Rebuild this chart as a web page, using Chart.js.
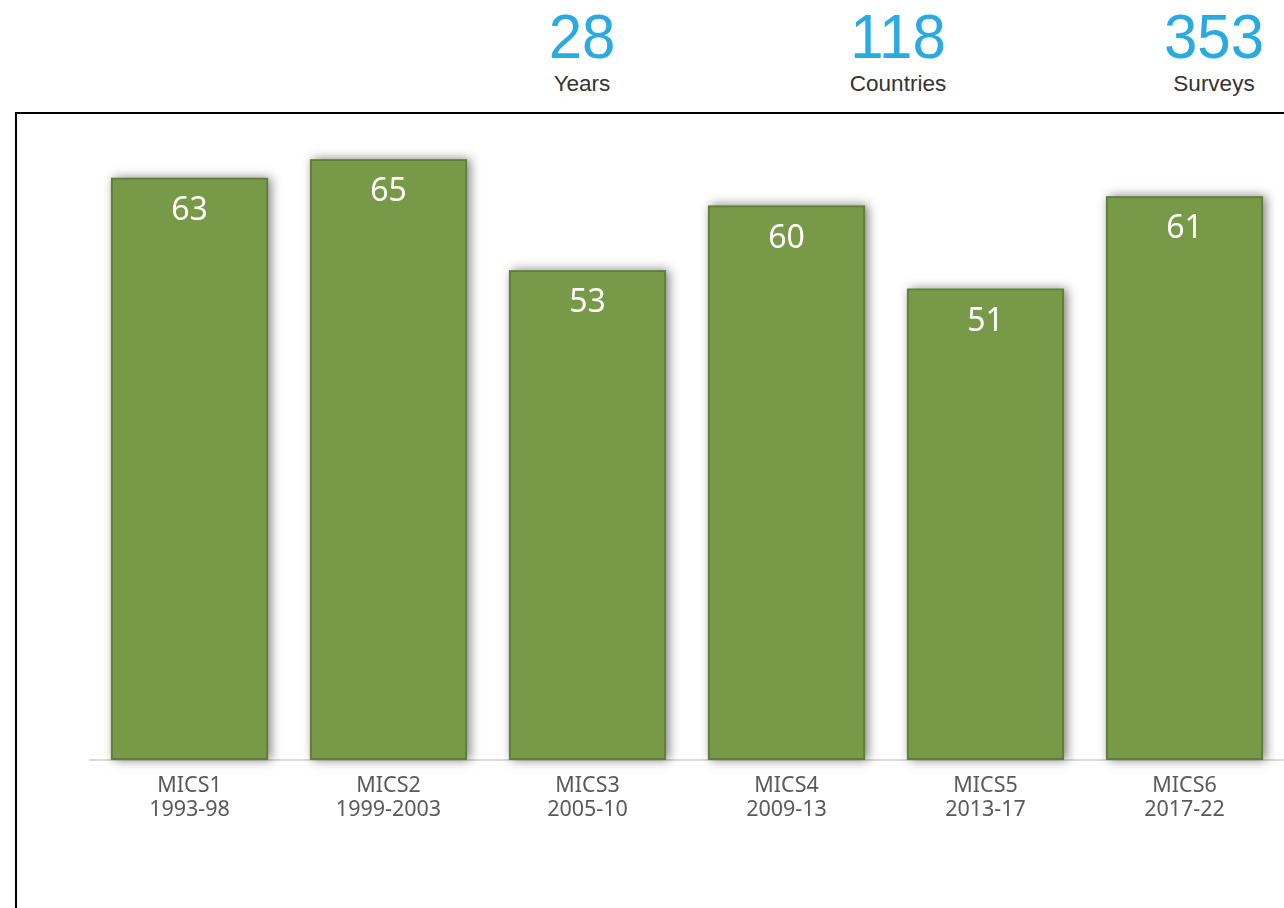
<!DOCTYPE html>
<html>
<head>
<meta charset="utf-8">
<script src="https://cdn.jsdelivr.net/npm/chart.js@4/dist/chart.umd.min.js"></script>
<style>
  html, body { margin:0; padding:0; background:#fff; width:1284px; height:908px; overflow:hidden; }
  #box { position:absolute; left:15px; top:112px; width:1400px; height:900px; border-left:2px solid #000; border-top:2px solid #000; box-sizing:border-box; }
  #wrap { position:absolute; left:0; top:0; width:1284px; height:908px; }
  .stat { position:absolute; width:240px; text-align:center; font-family:"Liberation Sans", Arial, sans-serif; }
  .stat .num { color:#29abe2; font-size:60px; line-height:60px; height:60px; transform:scaleY(1.05); }
  .stat .lbl { color:#333; font-size:22.5px; line-height:24px; margin-top:5px; }
</style>
</head>
<body>
<div id="box"></div>
<div id="stats"></div>
<div id="wrap"><canvas id="c" width="1284" height="908"></canvas></div>
<script>
const statValues = ['28', '118', '353'];
const statLabels = ['Years', 'Countries', 'Surveys'];
const rounds = ['MICS1', 'MICS2', 'MICS3', 'MICS4', 'MICS5', 'MICS6'];
const periods = ['1993-98', '1999-2003', '2005-10', '2009-13', '2013-17', '2017-22'];
const countries = [63, 65, 53, 60, 51, 61];

const statCenters = [582, 898, 1214];
const statsDiv = document.getElementById('stats');
statValues.forEach((v, i) => {
  const d = document.createElement('div');
  d.className = 'stat';
  d.style.left = (statCenters[i] - 120) + 'px';
  d.style.top = '7px';
  d.innerHTML = '<div class="num">' + v + '</div><div class="lbl">' + statLabels[i] + '</div>';
  statsDiv.appendChild(d);
});

// soft shadow behind each bar, placed from the bar elements computed by Chart.js
const shadowPlugin = {
  id: 'barShadow',
  beforeDatasetsDraw(chart) {
    const ctx = chart.ctx;
    const meta = chart.getDatasetMeta(0);
    ctx.save();
    ctx.shadowColor = 'rgba(0,0,0,0.5)';
    ctx.shadowBlur = 10;
    ctx.shadowOffsetX = 3;
    ctx.shadowOffsetY = 0;
    ctx.fillStyle = '#789a48';
    meta.data.forEach((bar) => {
      const p = bar.getProps(['x', 'y', 'base', 'width'], true);
      ctx.fillRect(p.x - p.width / 2, p.y, p.width, p.base - p.y);
    });
    ctx.restore();
  }
};

const labelPlugin = {
  id: 'valueLabels',
  afterDatasetsDraw(chart) {
    const ctx = chart.ctx;
    const meta = chart.getDatasetMeta(0);
    ctx.save();
    ctx.fillStyle = '#ffffff';
    ctx.font = '32px "Noto Sans", sans-serif';
    ctx.textAlign = 'center';
    ctx.textBaseline = 'middle';
    meta.data.forEach((bar, i) => {
      ctx.fillText(String(chart.data.datasets[0].data[i]), bar.x, bar.y + 33);
    });
    ctx.restore();
  }
};

new Chart(document.getElementById('c'), {
  type: 'bar',
  data: {
    labels: rounds.map((r, i) => [r, periods[i]]),
    datasets: [{
      data: countries,
      backgroundColor: '#789a48',
      borderColor: '#5f7e37',
      borderWidth: 2,
      borderSkipped: false,
      categoryPercentage: 1,
      barPercentage: 0.79
    }]
  },
  options: {
    responsive: false,
    animation: false,
    layout: { padding: { top: 113, left: 90, right: 0, bottom: 0 } },
    plugins: { legend: { display: false }, tooltip: { enabled: false } },
    scales: {
      y: { display: false, min: 0, max: 70 },
      x: {
        grid: { display: false },
        border: { display: true, color: '#d9d9d9', width: 2 },
        ticks: {
          color: '#595959',
          font: { family: '"Noto Sans", sans-serif', size: 21.5, lineHeight: 1.12 },
          padding: 6,
          maxRotation: 0
        },
        afterFit(scale) { scale.height = 148; }
      }
    }
  },
  plugins: [shadowPlugin, labelPlugin]
});
</script>
</body>
</html>
